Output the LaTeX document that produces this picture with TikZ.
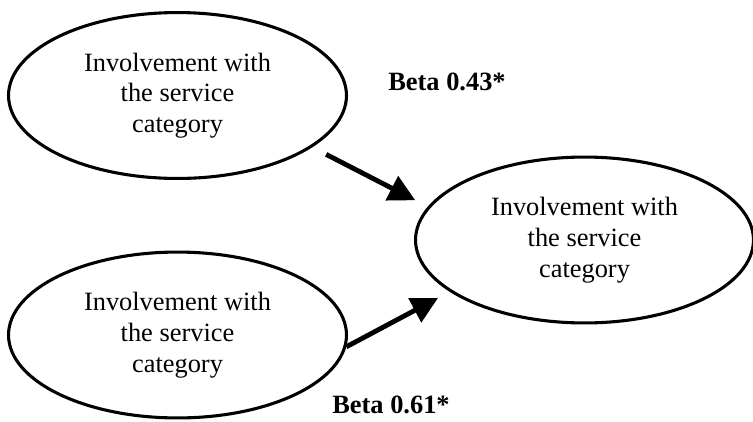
\documentclass[tikz,border=0pt]{standalone}
\usepackage{fontspec}
\setmainfont{Liberation Serif}
\usetikzlibrary{arrows.meta,shapes.geometric}

\begin{document}
\begin{tikzpicture}[x=0.4545pt, y=-0.4545pt,
        var/.style={ellipse, draw, line width=1.4pt, inner sep=0pt,
                minimum width=153.6pt, minimum height=75.4pt,
                align=center, font=\fontsize{12}{14}\selectfont},
        effect/.style={line width=2.2pt, -{Triangle[length=12pt,width=12pt]}},
        beta/.style={font=\fontsize{12}{14}\selectfont\bfseries}]
        \useasboundingbox (0,0) rectangle (753,421);

        \node[var] (a) at (177.5,95.5) {Involvement with\\the service\\category};
        \node[var] (b) at (177.5,335) {Involvement with\\the service\\category};
        \node[var] (c) at (584.5,240) {Involvement with\\the service\\category};

        \node[beta] (ba) at (447,82) {Beta 0.43*};
        \node[beta] (bb) at (391,405) {Beta 0.61*};

        \draw[effect, shorten <=7.1pt, shorten >=6.4pt] (a.-21.75) -- (c.168.4);
        \draw[effect, shorten >=6pt] (b.-4.4) -- (c.201.6);
\end{tikzpicture}
\end{document}
